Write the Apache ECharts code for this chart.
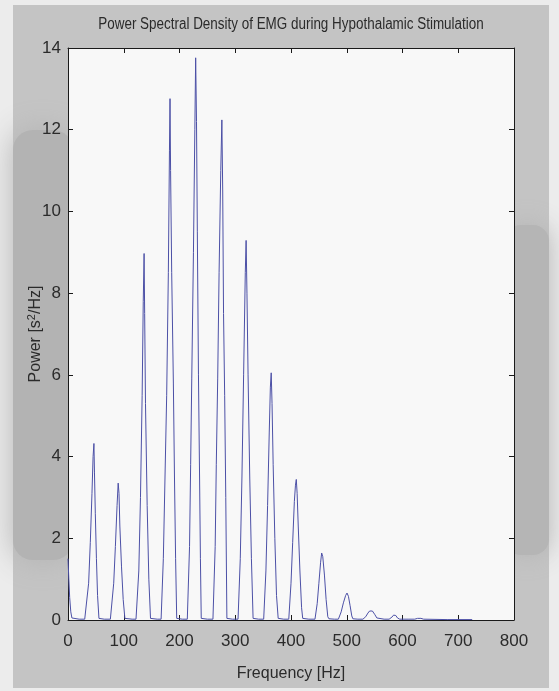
<!DOCTYPE html>
<html>
<head>
<meta charset="utf-8">
<title>Power Spectral Density of EMG</title>
<script src="https://cdn.jsdelivr.net/npm/echarts@6/dist/echarts.min.js"></script>
<style>
  html, body { margin: 0; padding: 0; background: #ececec; }
  #chart { width: 559px; height: 691px; }
</style>
</head>
<body>
<div id="chart"></div>
<script>
// Power spectrum of the EMG trace: [frequency Hz, power s^2/Hz]
// Harmonic peaks of the ~45.6 Hz stimulation rate, listed peak by peak.
const spectrumDC   = [[0, 1.5], [1.5, 1.0], [3, 0.55], [5, 0.2], [7, 0.05], [10, 0.02], [20, 0.02], [30, 0.02]];
const spectrumH1   = [[33, 0.04], [37, 0.9], [40, 1.9], [43, 3.1], [45, 4.0], [46.5, 4.32], [47.5, 3.6], [49, 2.6], [51, 1.5], [53, 0.6], [55.5, 0.04], [65, 0.02], [76, 0.02]];
const spectrumH2   = [[78, 0.04], [82, 0.9], [85, 1.8], [88, 2.8], [90, 3.35], [91.5, 3.1], [93, 2.3], [96, 1.3], [99, 0.5], [102, 0.04], [115, 0.02], [122, 0.02]];
const spectrumH3   = [[124, 0.04], [127, 1.2], [130, 3.0], [133, 5.5], [135, 7.8], [136.5, 8.97], [137.5, 7.5], [139, 5.3], [142, 2.8], [145, 1.0], [148, 0.04], [160, 0.02], [167, 0.02]];
const spectrumH4   = [[168.5, 0.04], [171, 1.5], [174, 3.5], [177, 5.5], [180, 8.5], [182, 11.5], [183, 12.76], [184, 11.0], [186, 8.5], [189, 5.8], [191, 3.5], [193, 1.5], [195, 0.04], [205, 0.02], [214, 0.02]];
const spectrumH5   = [[215.5, 0.04], [218, 1.8], [220, 3.8], [222, 5.9], [225, 9.0], [227.5, 12.0], [229, 13.76], [230.5, 12.2], [232, 9.5], [234, 6.0], [236, 3.5], [237.5, 1.5], [239, 0.04], [250, 0.02], [260, 0.02]];
const spectrumH6   = [[261.5, 0.04], [264, 1.8], [266, 3.8], [268.5, 5.9], [271, 8.5], [274, 11.0], [276, 12.24], [277.5, 10.5], [279, 7.5], [281, 5.5], [283, 3.0], [285, 0.04], [295, 0.02], [305, 0.02]];
const spectrumH7   = [[306.5, 0.04], [309, 1.5], [312, 3.5], [315, 6.0], [318, 8.5], [319.5, 9.29], [321, 8.0], [323, 6.0], [326, 3.5], [329, 1.5], [332, 0.04], [342, 0.02], [351, 0.02]];
const spectrumH8   = [[352, 0.04], [355, 1.2], [358, 2.8], [361, 4.6], [363, 5.7], [364.5, 6.05], [366, 5.3], [368, 3.8], [371, 2.0], [374, 0.6], [377, 0.04], [387, 0.02], [396, 0.02]];
const spectrumH9   = [[397, 0.04], [400, 0.9], [403, 1.9], [406, 2.9], [408, 3.3], [409.5, 3.44], [411, 3.1], [413, 2.3], [416, 1.2], [419, 0.3], [421, 0.04], [432, 0.02], [443, 0.02]];
const spectrumH10  = [[444, 0.04], [447, 0.4], [450, 0.9], [453, 1.4], [455, 1.64], [457, 1.55], [460, 1.1], [463, 0.5], [466, 0.08], [468, 0.03], [478, 0.02], [485, 0.02]];
const spectrumH11  = [[486, 0.03], [490, 0.2], [494, 0.42], [498, 0.6], [500.5, 0.66], [503, 0.58], [506, 0.35], [509, 0.1], [511, 0.03], [520, 0.02], [529, 0.02]];
const spectrumH12  = [[530, 0.02], [534, 0.08], [538, 0.17], [541, 0.22], [543.5, 0.24], [546, 0.22], [550, 0.14], [554, 0.05], [557, 0.02], [567, 0.02], [576, 0.02]];
const spectrumTail = [[577, 0.02], [581, 0.07], [584, 0.12], [586, 0.13], [588, 0.11], [591, 0.05], [595, 0.02], [610, 0.02], [622, 0.02], [627, 0.04], [630, 0.05], [633, 0.04], [638, 0.02], [680, 0.01], [725, 0.01]];

const spectrum = [].concat(spectrumDC, spectrumH1, spectrumH2, spectrumH3, spectrumH4,
  spectrumH5, spectrumH6, spectrumH7, spectrumH8, spectrumH9, spectrumH10,
  spectrumH11, spectrumH12, spectrumTail);

const freqTicks = { min: 0, max: 800, step: 100 };
const powerTicks = { min: 0, max: 14, step: 2 };

const titleText = 'Power Spectral Density of EMG during Hypothalamic Stimulation';
const xName = 'Frequency [Hz]';

const FONT = '"Liberation Sans", Arial, sans-serif';
const INK = '#2b2b2b';

const chart = echarts.init(document.getElementById('chart'), null, { renderer: 'canvas' });

const frameAxis = {
  axisLine: { show: true, onZero: false, lineStyle: { color: '#1a1a1a', width: 1 } },
  axisTick: { show: true, inside: true, length: 5, lineStyle: { color: '#1a1a1a', width: 1 } },
  splitLine: { show: false }
};

chart.setOption({
  backgroundColor: '#ececec',
  animation: false,
  graphic: [
    // grey paper surround with darker smudges down both sides
    { type: 'rect', z: -10, silent: true, shape: { x: 13, y: 5, width: 536, height: 683 }, style: { fill: '#c4c4c4' } },
    { type: 'rect', z: -9, silent: true, shape: { x: 13, y: 130, width: 60, height: 430, r: 20 },
      style: { fill: '#b3b3b3', shadowBlur: 30, shadowColor: '#b3b3b3' } },
    { type: 'rect', z: -9, silent: true, shape: { x: 505, y: 225, width: 44, height: 330, r: 16 },
      style: { fill: '#b5b5b5', shadowBlur: 26, shadowColor: '#b5b5b5' } },
    // plot face
    { type: 'rect', z: -8, silent: true, shape: { x: 68, y: 48, width: 446, height: 572 }, style: { fill: '#f8f8f8' } },
    // title, set in a condensed width
    { type: 'text', z: 10, silent: true, x: 291, y: 17, scaleX: 0.84, scaleY: 1,
      style: { text: titleText, fontFamily: FONT, fontSize: 16, fill: INK, align: 'center', verticalAlign: 'top' } }
  ],
  grid: { left: 68, right: 45, top: 48, bottom: 71, containLabel: false },
  xAxis: [
    Object.assign({}, frameAxis, {
      type: 'value', position: 'bottom',
      min: freqTicks.min, max: freqTicks.max, interval: freqTicks.step,
      name: xName, nameLocation: 'middle', nameGap: 46,
      nameTextStyle: { fontFamily: FONT, fontSize: 16, color: INK },
      axisLabel: { fontFamily: FONT, fontSize: 17, color: INK, margin: 13 }
    }),
    Object.assign({}, frameAxis, {
      type: 'value', position: 'top',
      min: freqTicks.min, max: freqTicks.max, interval: freqTicks.step,
      axisLabel: { show: false }
    })
  ],
  yAxis: [
    Object.assign({}, frameAxis, {
      type: 'value', position: 'left',
      min: powerTicks.min, max: powerTicks.max, interval: powerTicks.step,
      name: 'Power [s{sup|2}/Hz]', nameLocation: 'middle', nameGap: 23, nameRotate: 90,
      nameMoveOverlap: false,
      nameTextStyle: {
        fontFamily: FONT, fontSize: 16, color: INK,
        rich: { sup: { fontFamily: FONT, fontSize: 11, color: INK, verticalAlign: 'top', padding: [0, 0, 8, 0] } }
      },
      axisLabel: { fontFamily: FONT, fontSize: 17, color: INK, margin: 7 }
    }),
    Object.assign({}, frameAxis, {
      type: 'value', position: 'right',
      min: powerTicks.min, max: powerTicks.max, interval: powerTicks.step,
      axisLabel: { show: false }
    })
  ],
  series: [{
    type: 'line',
    data: spectrum,
    xAxisIndex: 0,
    yAxisIndex: 0,
    showSymbol: false,
    smooth: false,
    lineStyle: { color: '#4c50a6', width: 1 },
    z: 3
  }]
});
</script>
</body>
</html>
